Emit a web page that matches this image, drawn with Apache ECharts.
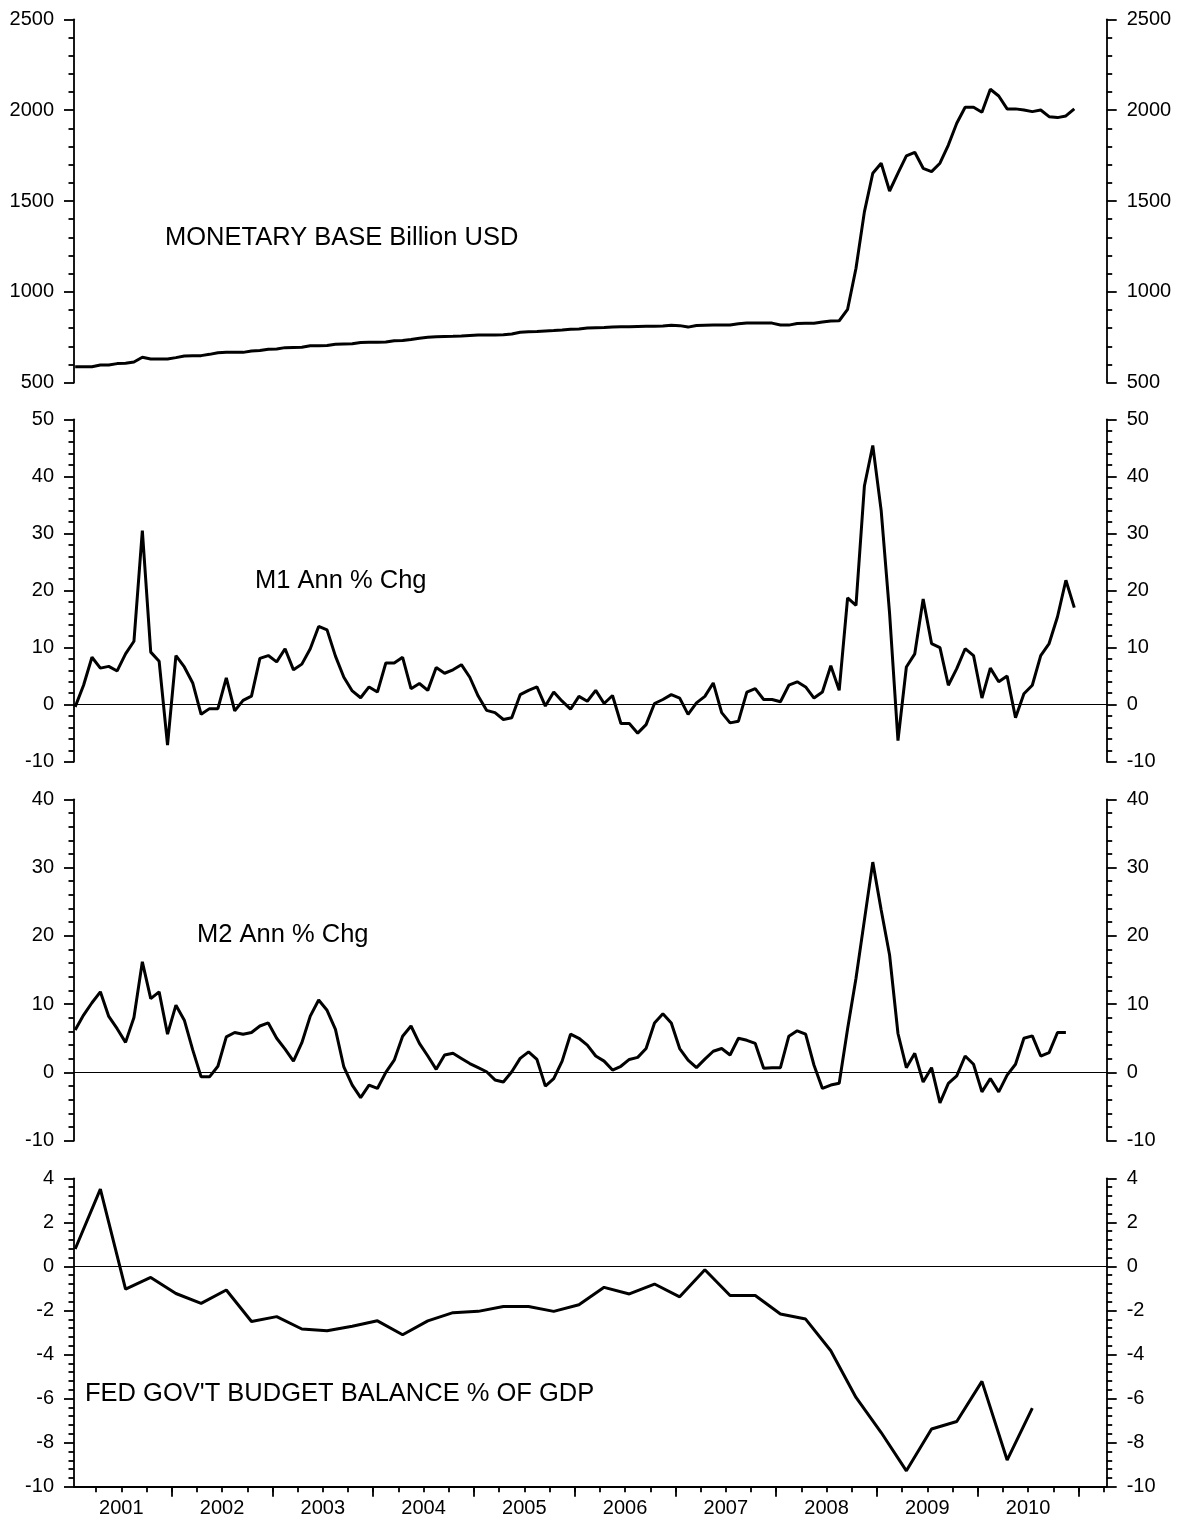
<!DOCTYPE html>
<html><head><meta charset="utf-8">
<script src="https://cdn.jsdelivr.net/npm/echarts@6/dist/echarts.min.js"></script>
<style>html,body{margin:0;padding:0;background:#fff}#c{width:1182px;height:1524px}</style>
</head><body><div id="c"></div>
<script>
// ---------- categories ----------
const months = [];
for (let y = 2001; y <= 2010; y++) for (let m = 1; m <= 12; m++) months.push(y + '-' + String(m).padStart(2, '0'));
const quarters = [];
for (let y = 2001; y <= 2010; y++) for (let q = 1; q <= 4; q++) quarters.push(y + 'Q' + q);
const yearLabels = ['2001','2002','2003','2004','2005','2006','2007','2008','2009','2010'];

// ---------- series values ----------
const monetaryBase = [
 588,588,588,597,597,605,607,614,640,630,630,630,
 638,647,649,649,656,665,667,667,667,675,677,684,
 686,693,694,695,703,704,705,712,713,714,721,722,
 722,724,731,732,738,745,750,753,754,755,757,760,
 762,763,763,764,768,778,781,782,785,787,790,794,
 796,801,803,804,807,808,808,809,810,811,812,816,
 814,806,815,816,817,817,818,825,829,829,829,828,
 818,817,826,827,827,834,840,841,904,1130,1440,1653,
 1708,1555,1653,1748,1768,1680,1662,1708,1808,1928,2016,2016,
 1988,2115,2078,2007,2007,2001,1992,2001,1964,1959,1968,2007
];
const m1Growth = [
 -0.4,3.4,8.3,6.4,6.7,5.9,8.9,11.1,30.5,9.2,7.6,-7.1,
 8.6,6.6,3.8,-1.7,-0.7,-0.7,4.7,-1.1,0.75,1.5,8.1,8.6,
 7.5,9.8,6.1,7.1,9.8,13.7,13.1,8.5,4.8,2.4,1.2,3.1,
 2.2,7.3,7.3,8.3,2.8,3.7,2.5,6.5,5.5,6.1,7.0,4.8,
 1.5,-1.0,-1.4,-2.6,-2.3,1.75,2.5,3.1,-0.25,2.2,0.6,-0.8,
 1.45,0.6,2.5,0.2,1.6,-3.3,-3.3,-5.0,-3.5,0.2,0.9,1.75,
 1.15,-1.7,0.3,1.45,3.8,-1.4,-3.2,-2.9,2.2,2.8,0.9,0.9,
 0.5,3.4,4.0,3.1,1.15,2.2,6.8,2.5,18.7,17.4,38.3,45.4,
 34.0,16.0,-6.3,6.6,8.9,18.5,10.7,10.0,3.4,6.3,9.8,8.6,
 1.15,6.4,4.0,5.0,-2.3,1.9,3.4,8.6,10.7,15.4,21.8,17.0
];
const m2Growth = [
 6.2,8.4,10.2,11.8,8.2,6.4,4.4,8.05,16.2,10.8,11.8,5.6,
 9.85,7.65,3.3,-0.65,-0.65,0.9,5.2,5.85,5.6,5.85,6.8,7.25,
 5.0,3.4,1.65,4.35,8.25,10.6,9.1,6.3,0.8,-1.85,-3.7,-1.85,
 -2.35,0.0,1.8,5.3,6.8,4.25,2.4,0.45,2.55,2.8,2.05,1.3,
 0.7,0.1,-1.1,-1.4,0.1,2.05,3.0,1.9,-2.0,-0.9,1.65,5.6,
 5.0,4.0,2.4,1.65,0.35,0.9,1.9,2.2,3.5,7.25,8.6,7.25,
 3.5,1.8,0.7,1.95,3.1,3.5,2.55,5.0,4.7,4.25,0.6,0.7,
 0.7,5.3,6.1,5.6,1.05,-2.35,-1.85,-1.6,6.4,13.8,22.3,30.8,
 23.8,17.2,5.7,0.7,2.8,-1.4,0.7,-4.45,-1.6,-0.5,2.4,1.2,
 -2.85,-0.9,-2.85,-0.4,1.2,5.0,5.35,2.4,2.9,5.85,5.85
];
const budgetBalance = [
 0.79,3.51,-1.03,-0.50,-1.23,-1.68,-1.07,-2.50,-2.28,-2.84,
 -2.92,-2.72,-2.47,-3.10,-2.47,-2.10,-2.04,-1.82,-1.82,-2.04,
 -1.74,-0.95,-1.25,-0.80,-1.38,-0.15,-1.32,-1.32,-2.16,-2.39,
 -3.83,-5.95,-7.54,-9.28,-7.38,-7.04,-5.22,-8.79,-6.43
];

// ---------- helpers ----------
const FONT = "'Liberation Sans', Arial, sans-serif";
const X_MIN = 2001.03, X_MAX = 2011.28;
const monthT = s => { const p = s.split('-'); return +p[0] + (+p[1] - 0.5) / 12; };
const quarterT = s => { const y = +s.slice(0, 4), q = +s.slice(5); return y + (q - 1) / 4 + 1 / 24; };

const yearTicks = [];
const quarterTicks = [];
const labelPos = yearLabels.map(y => +y + 0.5);
for (let y = 2001; y <= 2011; y++) {
  if (y > X_MIN && y < X_MAX) yearTicks.push(y);
  for (let k = 0; k < 4; k++) { const v = y + k / 4; if (v > X_MIN && v < X_MAX) quarterTicks.push(v); }
}

const grids = [
  { left: 74, right: 75.3, top: 19.3, height: 363.4 },
  { left: 74, right: 75.3, top: 419.3, height: 342.4 },
  { left: 74, right: 75.3, top: 799.3, height: 341.4 },
  { left: 74, right: 75.3, top: 1178.3, height: 308.4 }
];
const ranges = [[500, 2500, 500], [-10, 50, 10], [-10, 40, 10], [-10, 4, 2]];

const lineBlack = { color: '#000', width: 1.8 };
function yAx(gi, pos, r) {
  return {
    type: 'value', gridIndex: gi, position: pos, min: r[0], max: r[1], interval: r[2],
    axisLine: { show: true, onZero: false, lineStyle: lineBlack },
    axisTick: { show: true, length: 10, lineStyle: lineBlack },
    minorTick: { show: true, splitNumber: 5, length: 5.5, lineStyle: lineBlack },
    splitLine: { show: false }, minorSplitLine: { show: false },
    axisLabel: { color: '#000', fontSize: 20, fontFamily: FONT, margin: 20, formatter: v => String(v) }
  };
}
const yAxes = [];
grids.forEach((g, i) => { yAxes.push(yAx(i, 'left', ranges[i])); yAxes.push(yAx(i, 'right', ranges[i])); });

const xAxes = [0, 1, 2].map(i => ({ type: 'value', gridIndex: i, min: X_MIN, max: X_MAX, show: false }));
xAxes.push({
  type: 'value', gridIndex: 3, min: X_MIN, max: X_MAX, position: 'bottom',
  axisLine: { show: true, onZero: false, lineStyle: lineBlack },
  axisTick: { show: true, length: 10, lineStyle: lineBlack, customValues: yearTicks },
  axisLabel: { show: true, color: '#000', fontSize: 20, fontFamily: FONT, margin: 12,
    customValues: labelPos, formatter: v => yearLabels[Math.floor(v) - 2001] },
  splitLine: { show: false }
});
xAxes.push({
  type: 'value', gridIndex: 3, min: X_MIN, max: X_MAX, position: 'bottom',
  axisLine: { show: false, onZero: false },
  axisTick: { show: true, length: 5.5, lineStyle: lineBlack, customValues: quarterTicks },
  axisLabel: { show: false }, splitLine: { show: false }
});

const zeroLine = { silent: true, symbol: 'none', label: { show: false },
  lineStyle: { color: '#000', width: 1.2, type: 'solid' }, emphasis: { disabled: true }, data: [{ yAxis: 0 }] };

function lineSeries(gi, data, withZero) {
  const s = { type: 'line', xAxisIndex: gi, yAxisIndex: gi * 2, data, showSymbol: false, symbol: 'none',
    lineStyle: { color: '#000', width: 3 }, emphasis: { disabled: true }, z: 3 };
  if (withZero) s.markLine = zeroLine;
  return s;
}

const titleStyle = t => ({ text: t, fontSize: 25.5, fontFamily: FONT, fill: '#000', verticalAlign: 'middle' });
const option = {
  animation: false,
  backgroundColor: '#fff',
  grid: grids,
  xAxis: xAxes,
  yAxis: yAxes,
  series: [
    lineSeries(0, months.map((m, i) => [monthT(m), monetaryBase[i]]), false),
    lineSeries(1, months.map((m, i) => [monthT(m), m1Growth[i]]), true),
    lineSeries(2, m2Growth.map((v, i) => [monthT(months[i]), v]), true),
    lineSeries(3, budgetBalance.map((v, i) => [quarterT(quarters[i]), v]), true)
  ],
  graphic: [
    { type: 'text', x: 165, y: 238, style: titleStyle('MONETARY BASE Billion USD') },
    { type: 'text', x: 255, y: 581, style: titleStyle('M1 Ann % Chg') },
    { type: 'text', x: 197, y: 935, style: titleStyle('M2 Ann % Chg') },
    { type: 'text', x: 85, y: 1394, style: titleStyle("FED GOV'T BUDGET BALANCE % OF GDP") }
  ]
};
echarts.init(document.getElementById('c'), null, { renderer: 'canvas' }).setOption(option);
</script>
</body></html>
